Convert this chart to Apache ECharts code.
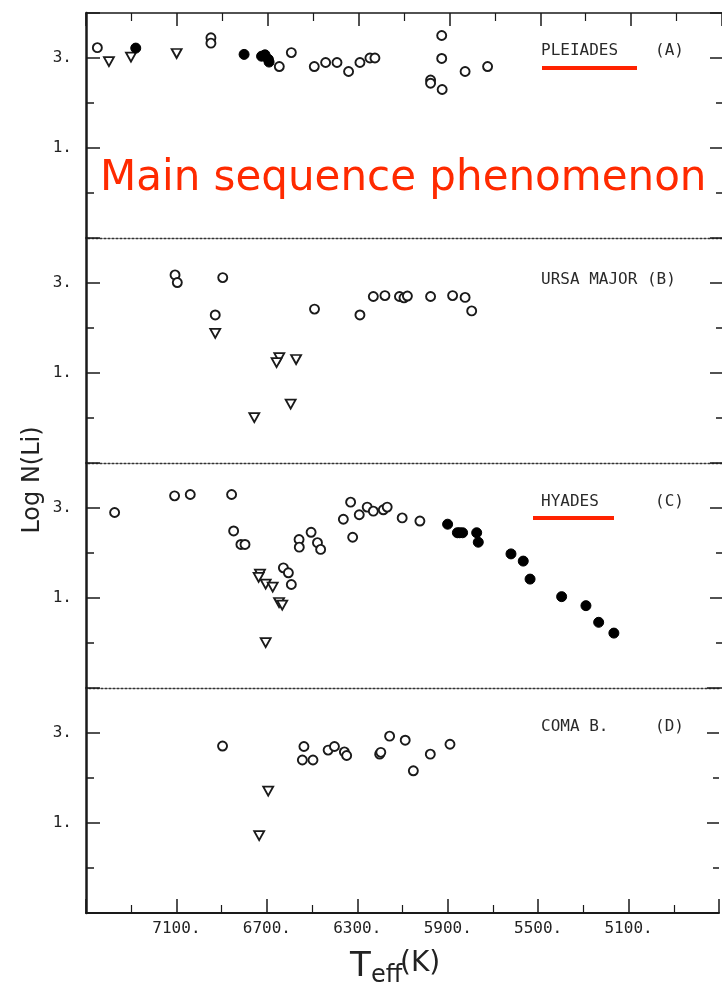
<!DOCTYPE html>
<html>
<head>
<meta charset="utf-8">
<script src="https://cdn.jsdelivr.net/npm/echarts@6/dist/echarts.min.js"></script>
<style>
  html, body { margin: 0; padding: 0; background: #fff; }
  #chart { width: 722px; height: 990px; }
</style>
</head>
<body>
<div id="chart"></div>
<script>
// ---- data (Teff [K], Log N(Li)) ----
var xTickLabels = [7100, 6700, 6300, 5900, 5500, 5100];
var yTickLabels = [1, 3];

var pleiadesOpen = [[7450,3.23],[6950,3.45],[6950,3.33],[6649,2.81],[6596,3.12],[6495,2.81],[6445,2.90],[6395,2.90],[6344,2.70],[6294,2.90],[6250,3.00],[6228,3.00],[5934,3.50],[5934,2.99],[5831,2.70],[5732,2.81],[5983,2.51],[5983,2.44],[5932,2.30]];
var pleiadesFilled = [[7281,3.22],[6804,3.08],[6727,3.04],[6712,3.07],[6697,2.97],[6694,2.91]];
var pleiadesLimit = [[7399,2.92],[7302,3.02],[7101,3.10]];

var ursaOpen = [[7108,3.18],[7098,3.01],[6898,3.12],[6931,2.29],[6494,2.42],[6294,2.29],[6235,2.70],[6184,2.72],[6120,2.70],[6100,2.67],[6085,2.71],[5983,2.70],[5886,2.72],[5831,2.68],[5802,2.38]];
var ursaFilled = [];
var ursaLimit = [[6931,1.88],[6649,1.34],[6661,1.23],[6575,1.30],[6599,0.31],[6759,0.01]];

var hyadesOpen = [[7374,2.90],[7110,3.27],[7041,3.30],[6859,3.30],[6850,2.49],[6818,2.19],[6800,2.19],[6631,1.67],[6609,1.56],[6596,1.30],[6562,2.30],[6561,2.13],[6509,2.46],[6481,2.23],[6467,2.08],[6367,2.75],[6335,3.13],[6326,2.35],[6297,2.85],[6262,3.02],[6235,2.93],[6191,2.96],[6174,3.02],[6108,2.78],[6030,2.71]];
var hyadesFilled = [[5908,2.64],[5865,2.45],[5855,2.45],[5842,2.45],[5780,2.45],[5773,2.24],[5629,1.98],[5575,1.82],[5545,1.42],[5406,1.03],[5299,0.83],[5243,0.46],[5176,0.22]];
var hyadesLimit = [[6734,1.53],[6740,1.46],[6709,1.31],[6678,1.24],[6650,0.90],[6636,0.84],[6709,0.01]];

var comaOpen = [[6896,2.71],[6536,2.70],[6543,2.40],[6496,2.40],[6429,2.62],[6401,2.70],[6357,2.58],[6347,2.50],[6201,2.53],[6196,2.57],[6157,2.93],[6088,2.84],[6052,2.16],[5977,2.53],[5890,2.75]];
var comaFilled = [];
var comaLimit = [[6694,1.71],[6734,0.72]];

var panels = [
  { name: 'PLEIADES', tag: '(A)', open: pleiadesOpen, filled: pleiadesFilled, limit: pleiadesLimit },
  { name: 'URSA MAJOR (B)', tag: '', open: ursaOpen, filled: ursaFilled, limit: ursaLimit },
  { name: 'HYADES', tag: '(C)', open: hyadesOpen, filled: hyadesFilled, limit: hyadesLimit },
  { name: 'COMA B.', tag: '(D)', open: comaOpen, filled: comaFilled, limit: comaLimit }
];

// ---- layout / style ----
var T_MIN = 4700, T_MAX = 7500;
var GRID_LEFT = 86, GRID_W = 636, GRID_TOP = 13, PANEL_H = 225;
var INK = '#1a1a1a';
var MONO = '"DejaVu Sans Mono", "Liberation Mono", monospace';

var grids = [], xAxes = [], yAxes = [], series = [], graphics = [];

panels.forEach(function (p, i) {
  var top = GRID_TOP + i * PANEL_H;
  grids.push({ left: GRID_LEFT, top: top, width: GRID_W, height: PANEL_H, containLabel: false });

  // data x axis
  var xData = xAxes.length;
  xAxes.push({ gridIndex: i, type: 'value', min: T_MIN, max: T_MAX, inverse: true, show: false });
  // top decorative axis
  if (i === 0) {
    xAxes.push({ gridIndex: i, type: 'value', position: 'top', min: 0, max: T_MAX - T_MIN, interval: 400, inverse: true,
      axisLine: { show: true, onZero: false, lineStyle: { color: INK, width: 1.5 } },
      axisTick: { show: true, inside: true, length: 13, lineStyle: { color: INK, width: 1.5 } },
      minorTick: { show: true, splitNumber: 2, length: 8, lineStyle: { color: INK, width: 1.2 } },
      axisLabel: { show: false }, splitLine: { show: false }, minorSplitLine: { show: false } });
  } else {
    xAxes.push({ gridIndex: i, type: 'value', position: 'top', min: 0, max: T_MAX - T_MIN, inverse: true,
      axisLine: { show: true, onZero: false, lineStyle: { color: '#333', width: 1.3, type: [2, 2] } },
      axisTick: { show: false }, axisLabel: { show: false }, splitLine: { show: false } });
  }
  if (i === panels.length - 1) {
    xAxes.push({ gridIndex: i, type: 'value', position: 'bottom', min: 0, max: T_MAX - T_MIN, interval: 400, inverse: true,
      axisLine: { show: true, onZero: false, lineStyle: { color: INK, width: 2 } },
      axisTick: { show: true, inside: true, length: 14, lineStyle: { color: INK, width: 1.5 } },
      minorTick: { show: true, splitNumber: 2, length: 8, lineStyle: { color: INK, width: 1.2 } },
      axisLabel: { show: true, margin: 8, color: '#222', fontFamily: MONO, fontSize: 16,
        formatter: function (u) { var t = Math.round(u + T_MIN); return xTickLabels.indexOf(t) >= 0 ? t + '.' : ''; } },
      splitLine: { show: false }, minorSplitLine: { show: false } });
  }

  // y axes
  var yData = yAxes.length;
  yAxes.push({ gridIndex: i, type: 'value', position: 'left', min: -1, max: 4, interval: 1,
    axisLine: { show: true, onZero: false, lineStyle: { color: INK, width: 2.5 } },
    axisTick: { show: true, inside: true, length: 8, lineStyle: { color: INK, width: 1.5 } },
    axisLabel: { show: false }, splitLine: { show: false } });
  yAxes.push({ gridIndex: i, type: 'value', position: 'left', min: 0, max: 5, interval: 2,
    axisLine: { show: false, onZero: false },
    axisTick: { show: true, inside: true, length: 14, lineStyle: { color: INK, width: 1.5 } },
    axisLabel: { show: true, margin: 14, color: '#222', fontFamily: MONO, fontSize: 16,
      formatter: function (v) { var t = Math.round(v - 1); return yTickLabels.indexOf(t) >= 0 ? t + '.' : ''; } },
    splitLine: { show: false } });
  yAxes.push({ gridIndex: i, type: 'value', position: 'right', min: -1, max: 4, interval: 1,
    axisLine: { show: false, onZero: false },
    axisTick: { show: true, inside: true, length: 6, lineStyle: { color: INK, width: 1.5 } },
    axisLabel: { show: false }, splitLine: { show: false } });
  yAxes.push({ gridIndex: i, type: 'value', position: 'right', min: 0, max: 5, interval: 2,
    axisLine: { show: false, onZero: false },
    axisTick: { show: true, inside: true, length: 12, lineStyle: { color: INK, width: 1.5 } },
    axisLabel: { show: false }, splitLine: { show: false } });

  series.push({ type: 'scatter', xAxisIndex: xData, yAxisIndex: yData, data: p.open, symbol: 'circle', symbolSize: 9,
    itemStyle: { color: '#fff', borderColor: INK, borderWidth: 1.9, opacity: 1 }, z: 3 });
  series.push({ type: 'scatter', xAxisIndex: xData, yAxisIndex: yData, data: p.filled, symbol: 'circle', symbolSize: 10,
    itemStyle: { color: '#000', borderColor: '#000', borderWidth: 1, opacity: 1 }, z: 4 });
  series.push({ type: 'scatter', xAxisIndex: xData, yAxisIndex: yData, data: p.limit, symbol: 'triangle', symbolRotate: 180,
    symbolSize: [10, 9], itemStyle: { color: '#fff', borderColor: INK, borderWidth: 1.8, opacity: 1 }, z: 3 });
});

// panel labels
var labelStyle = { fill: '#2a2a2a', fontFamily: MONO, fontSize: 16, textVerticalAlign: 'middle' };
var labelY = [52, 281, 503, 728];
panels.forEach(function (p, i) {
  graphics.push({ type: 'text', left: 541, top: labelY[i] - 9, style: Object.assign({ text: p.name }, labelStyle) });
  if (p.tag) graphics.push({ type: 'text', left: 655, top: labelY[i] - 9, style: Object.assign({ text: p.tag }, labelStyle) });
});
// red underlines
graphics.push({ type: 'rect', shape: { x: 542, y: 66, width: 95, height: 4 }, style: { fill: '#ff2200' } });
graphics.push({ type: 'rect', shape: { x: 533, y: 516, width: 81, height: 4 }, style: { fill: '#ff2200' } });
// red annotation
graphics.push({ type: 'text', left: 100, top: 158, style: { text: 'Main sequence phenomenon', fill: '#ff2a00',
  fontFamily: '"DejaVu Sans", sans-serif', fontSize: 42 } });
// axis titles
graphics.push({ type: 'text', x: 33, y: 480, rotation: Math.PI / 2,
  style: { text: 'Log N(Li)', fill: '#222', fontFamily: '"DejaVu Sans", sans-serif', fontSize: 24, align: 'center', verticalAlign: 'middle' } });
graphics.push({ type: 'text', x: 350, y: 950, style: { text: 'T', fill: '#222', fontFamily: '"DejaVu Sans", sans-serif', fontSize: 34 } });
graphics.push({ type: 'text', x: 371, y: 964, style: { text: 'eff', fill: '#222', fontFamily: '"DejaVu Sans", sans-serif', fontSize: 24 } });
graphics.push({ type: 'text', x: 400, y: 950, style: { text: '(K)', fill: '#222', fontFamily: '"DejaVu Sans", sans-serif', fontSize: 28 } });

var chart = echarts.init(document.getElementById('chart'), null, { renderer: 'canvas' });
chart.setOption({
  backgroundColor: '#fff',
  animation: false,
  grid: grids,
  xAxis: xAxes,
  yAxis: yAxes,
  series: series,
  graphic: graphics
});
</script>
</body>
</html>
